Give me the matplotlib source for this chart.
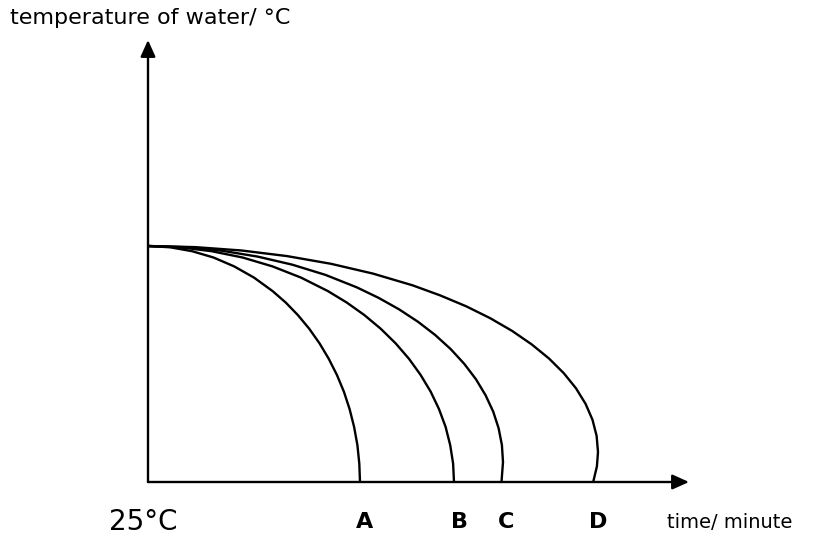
import matplotlib
matplotlib.use("Agg")
import matplotlib.pyplot as plt

# ---- data (time in arbitrary units, temperature above the 25 °C baseline) ----
curve_labels = ["A", "B", "C", "D"]

time_A = [0, 2.22, 4.41, 6.55, 8.62, 10.60, 12.46, 13.77, 14.99, 16.12, 17.15, 18.07,
          18.89, 19.59, 20.16, 20.61, 20.94, 21.13, 21.20]
temp_A = [23.6, 23.47, 23.08, 22.45, 21.56, 20.44, 19.09, 17.95, 16.69, 15.33, 13.87, 12.33,
          10.71, 9.03, 7.29, 5.51, 3.69, 1.85, 0]

time_B = [0, 3.20, 6.36, 9.46, 12.45, 15.30, 17.99, 19.87, 21.64, 23.27, 24.76, 26.09,
          27.26, 28.27, 29.10, 29.76, 30.22, 30.51, 30.60]
temp_B = [23.6, 23.47, 23.08, 22.45, 21.56, 20.44, 19.09, 17.95, 16.69, 15.33, 13.87, 12.33,
          10.71, 9.03, 7.29, 5.51, 3.69, 1.85, 0]

time_C = [0, 3.71, 7.38, 10.97, 14.44, 17.75, 20.87, 23.05, 25.10, 26.99, 28.72, 30.27,
          31.63, 32.80, 33.76, 34.52, 35.06, 35.39, 35.50, 35.35]
temp_C = [23.6, 23.48, 23.13, 22.54, 21.73, 20.71, 19.47, 18.42, 17.27, 16.03, 14.70, 13.29,
          11.81, 10.27, 8.67, 7.04, 5.38, 3.70, 2.0, 0]

time_D = [0, 4.70, 9.36, 13.91, 18.30, 22.50, 26.45, 29.22, 31.82, 34.22, 36.41, 38.37,
          40.10, 41.58, 42.80, 43.76, 44.45, 44.86, 45.00, 44.89, 44.52]
temp_D = [23.6, 23.49, 23.15, 22.59, 21.82, 20.84, 19.67, 18.66, 17.57, 16.38, 15.11, 13.76,
          12.35, 10.88, 9.37, 7.81, 6.22, 4.62, 3.0, 1.56, 0]

x_axis_end = 54.1
y_axis_end = 44.2

y_title = "temperature of water/ °C"
x_title = "time/ minute"
origin_label = "25°C"

# ---- figure ----
fig = plt.figure(figsize=(8.16, 5.37), dpi=100)
ax = fig.add_axes([0, 0, 1, 1])
ax.set_xlim(-14.8, 66.8)
ax.set_ylim(-5.5, 48.2)
ax.axis("off")

series = [(time_A, temp_A), (time_B, temp_B), (time_C, temp_C), (time_D, temp_D)]
for t, T in series:
    ax.plot(t, T, color="black", lw=1.7, solid_capstyle="butt", solid_joinstyle="round")

arrow = dict(arrowstyle="-|>,head_length=1.0,head_width=0.45", lw=1.7,
             color="black", shrinkA=0, shrinkB=0, mutation_scale=10)
ax.annotate("", xy=(0, y_axis_end), xytext=(0, 0), arrowprops=arrow)
ax.annotate("", xy=(x_axis_end, 0), xytext=(0, 0), arrowprops=arrow)

ax.text(-13.8, 46.4, y_title, fontsize=16, family="DejaVu Sans",
        ha="left", va="center")
ax.text(51.9, -4.1, x_title, fontsize=14, family="DejaVu Sans",
        ha="left", va="center")
ax.text(-0.5, -4.0, origin_label, fontsize=20, family="DejaVu Sans",
        ha="center", va="center")

for lab, (t, T) in zip(curve_labels, series):
    ax.text(t[-1] + 0.5, -4.0, lab, fontsize=16, fontweight="bold",
            family="DejaVu Sans", ha="center", va="center")

fig.savefig("out.png", dpi=100)
